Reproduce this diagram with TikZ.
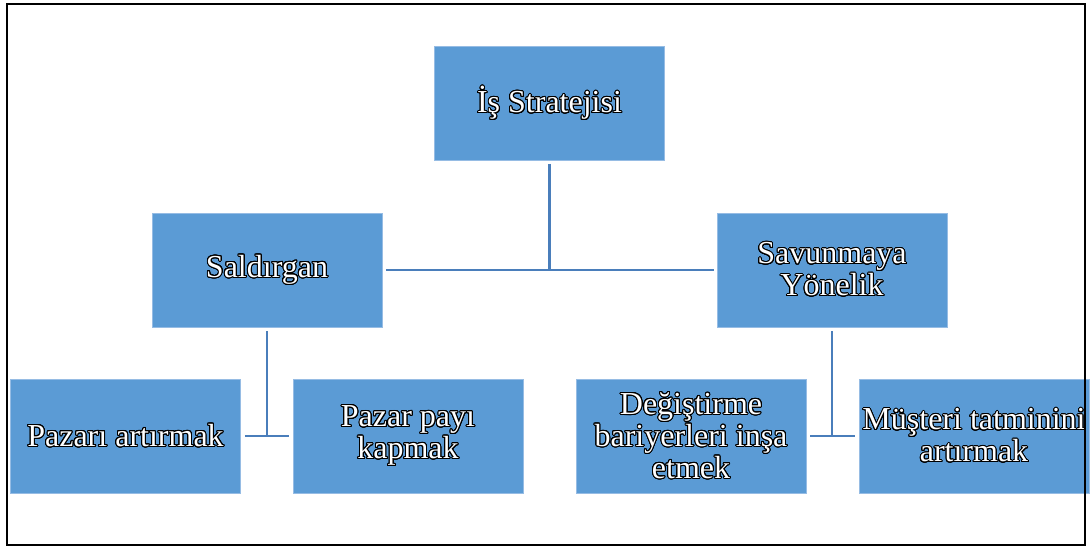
\documentclass[tikz,border=0pt]{standalone}
\usepackage{fontspec}
\setmainfont{Liberation Serif}
\usepackage{contour}
\contourlength{0.5pt}
\contournumber{24}
\definecolor{boxblue}{RGB}{91,155,213}
\definecolor{boxedge}{RGB}{150,188,228}
\definecolor{linkblue}{RGB}{74,126,187}
\newcommand{\ol}[1]{\contour{black}{#1}}

\begin{document}
\begin{tikzpicture}[x=0.5pt,y=-0.5pt]
                \tikzstyle{block} = [rectangle, draw=boxedge, line width=0.4pt, fill=boxblue, text=white, align=center, minimum width=115pt, minimum height=57pt, inner sep=0pt, font=\fontsize{16pt}{16pt}\selectfont]
                \tikzstyle{link} = [draw=linkblue, line width=1.3pt]
                \useasboundingbox (0,0) rectangle (1091,547);

                \node (strateji) [block] at (549.5,103.5) {\ol{İş Stratejisi}};
                \node (saldirgan) [block] at (267,270) {\ol{Saldırgan}};
                \node (savunma) [block] at (832,270) {\ol{Savunmaya}\\\ol{Yönelik}};
                \node (pazar) [block] at (125.5,436) {\ol{Pazarı artırmak}};
                \node (pay) [block] at (408,436) {\ol{Pazar payı}\\\ol{kapmak}};
                \node (bariyer) [block] at (691,436) {\ol{Değiştirme}\\\ol{bariyerleri inşa}\\\ol{etmek}};
                \node (musteri) [block] at (974,436) {\ol{Müşteri tatminini}\\\ol{artırmak}};

                \draw [link, shorten <=1.5pt] (strateji.south) -- (strateji.south |- saldirgan.east);
                \draw [link, shorten <=2pt, shorten >=1.5pt] (saldirgan.east) -- (savunma.west);
                \draw [link, shorten <=2pt] (saldirgan.south) -- (saldirgan.south |- pazar.east);
                \draw [link, shorten <=2pt, shorten >=2pt] (pazar.east) -- (pay.west);
                \draw [link, shorten <=2pt] (savunma.south) -- (savunma.south |- bariyer.east);
                \draw [link, shorten <=2pt, shorten >=2pt] (bariyer.east) -- (musteri.west);

                \draw [line width=1pt] (7,4) rectangle (1085,545);
            \end{tikzpicture}
\end{document}
